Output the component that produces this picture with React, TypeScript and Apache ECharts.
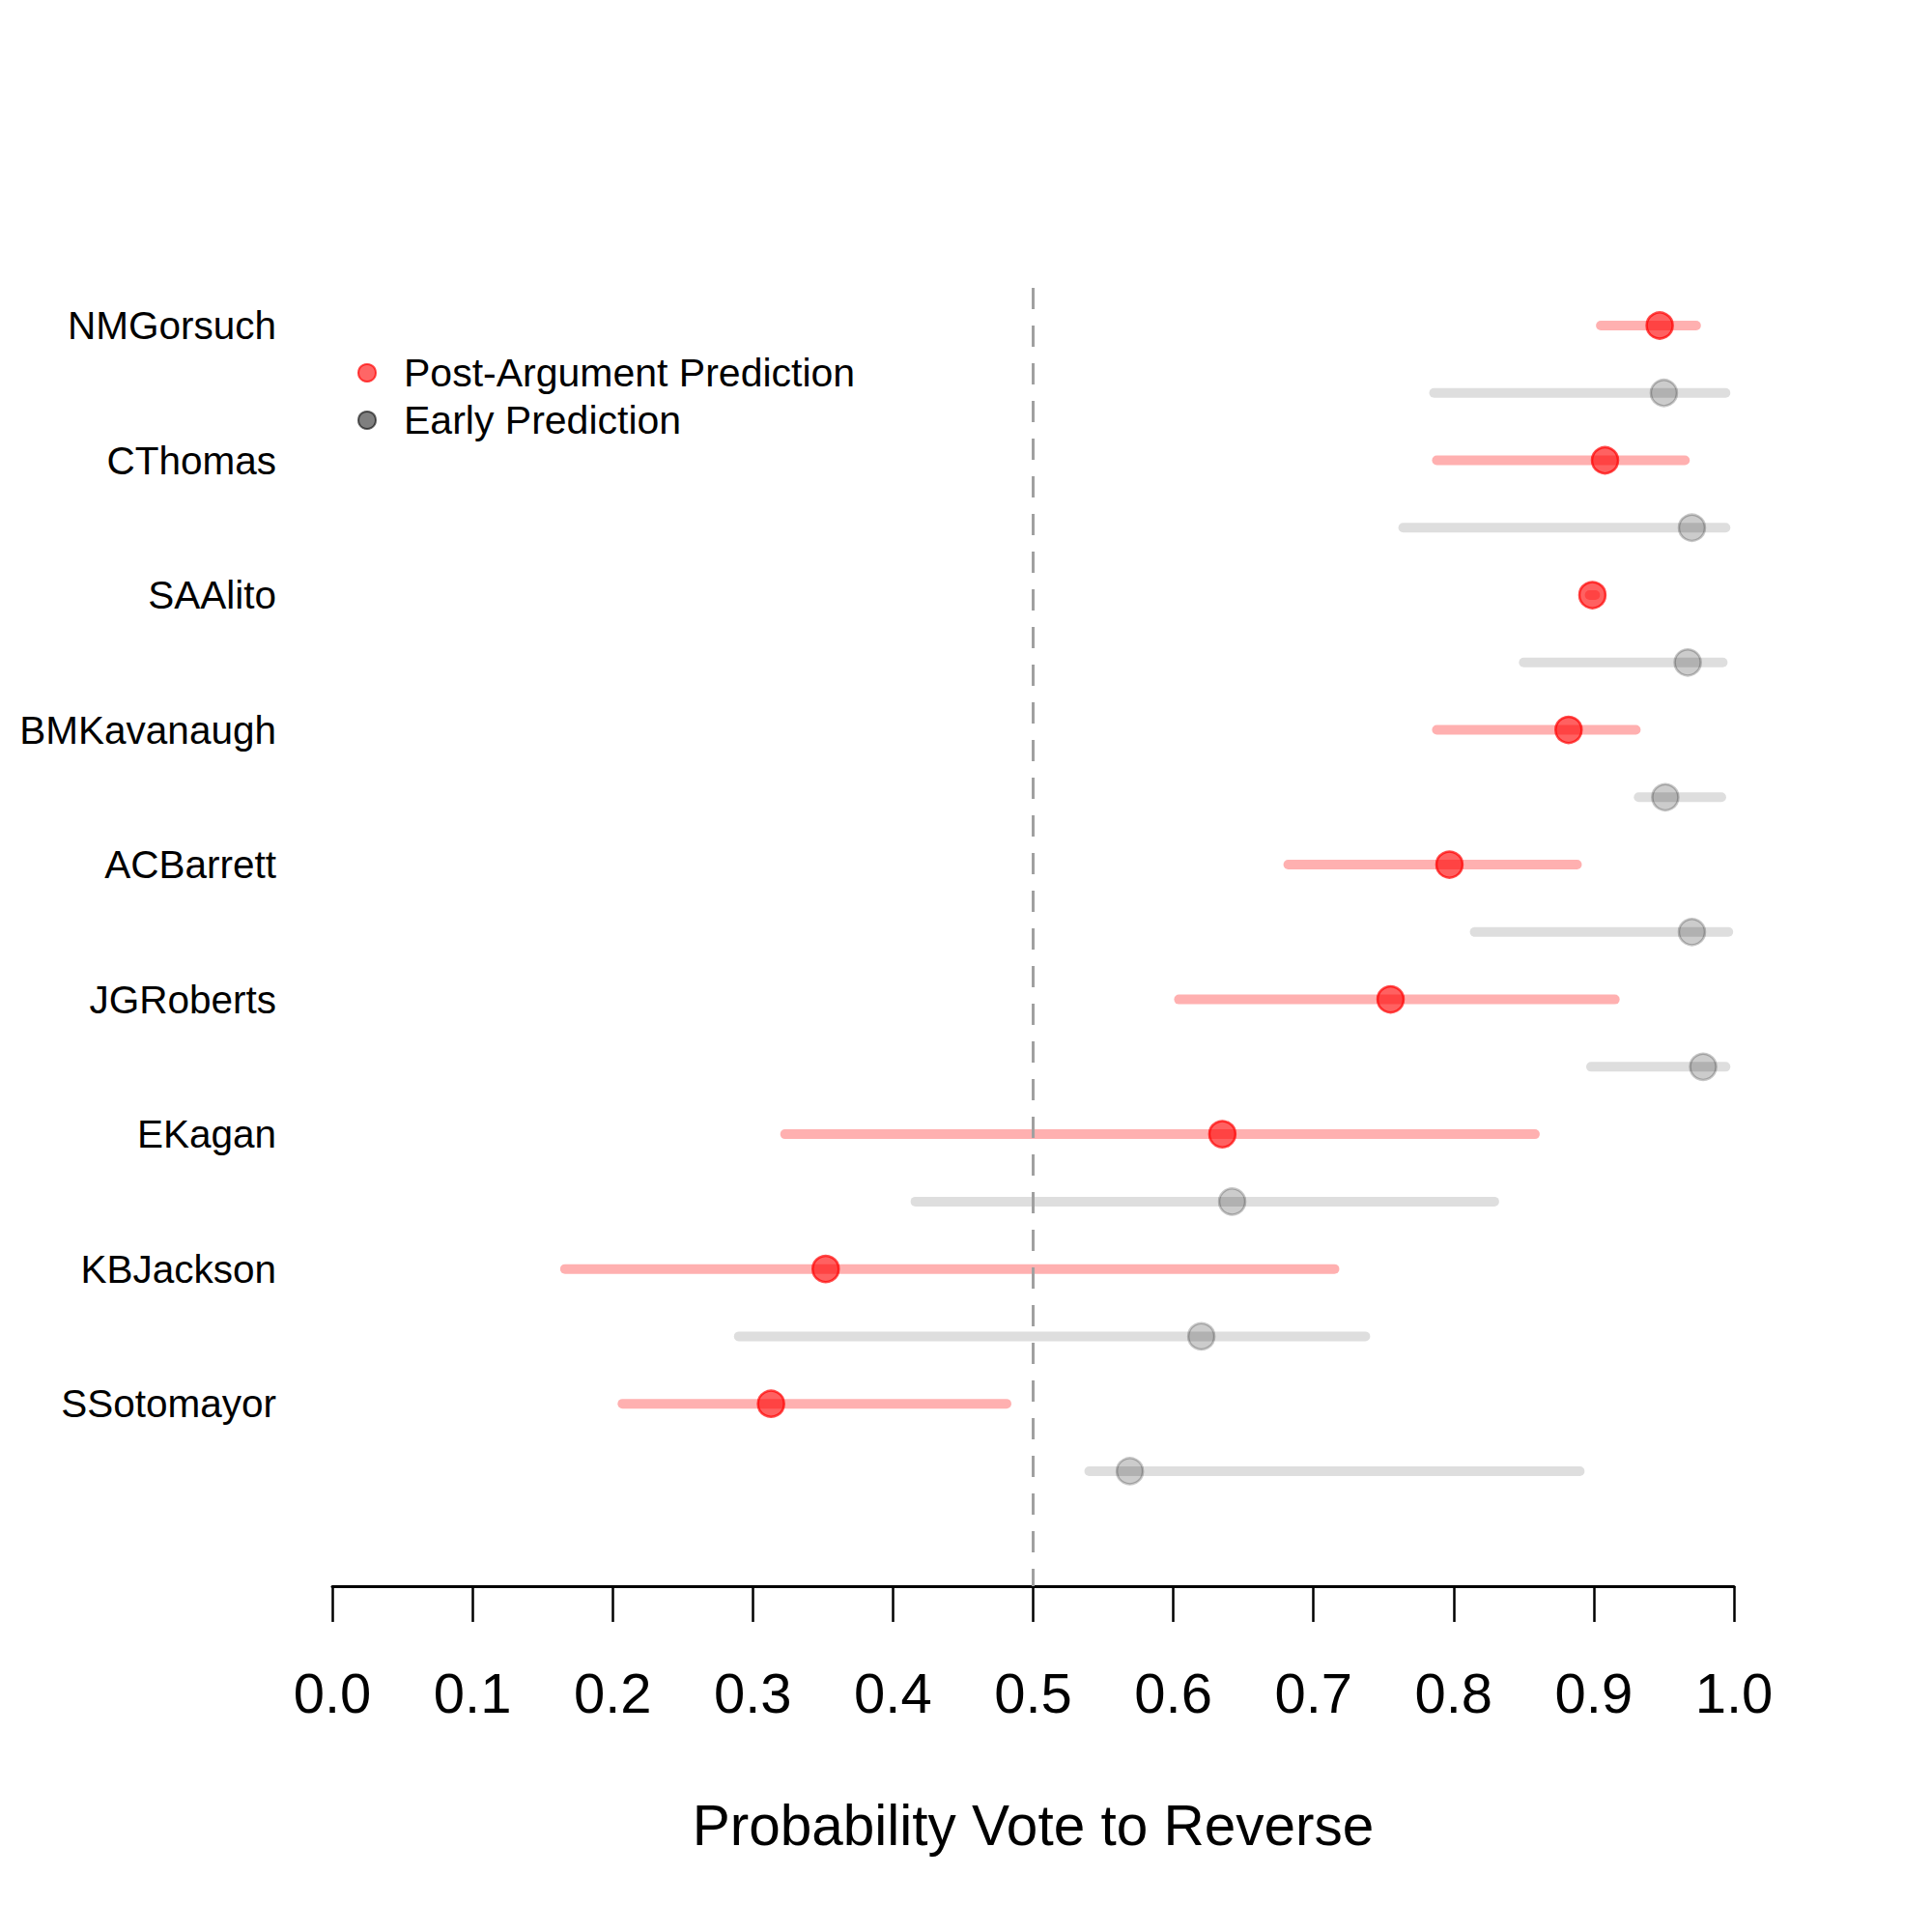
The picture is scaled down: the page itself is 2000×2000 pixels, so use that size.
import React, { useEffect, useRef } from "react";
import * as echarts from "echarts";

const justices = ["NMGorsuch", "CThomas", "SAAlito", "BMKavanaugh", "ACBarrett", "JGRoberts", "EKagan", "KBJackson", "SSotomayor"];
const postMean = [0.947, 0.908, 0.899, 0.882, 0.797, 0.755, 0.635, 0.352, 0.313];
const postLow = [0.905, 0.788, 0.897, 0.788, 0.682, 0.604, 0.323, 0.166, 0.207];
const postHigh = [0.973, 0.965, 0.901, 0.930, 0.888, 0.915, 0.858, 0.715, 0.481];
const earlyMean = [0.950, 0.970, 0.967, 0.951, 0.970, 0.978, 0.642, 0.620, 0.569];
const earlyLow = [0.786, 0.764, 0.850, 0.932, 0.815, 0.898, 0.416, 0.290, 0.540];
const earlyHigh = [0.994, 0.994, 0.992, 0.991, 0.996, 0.994, 0.829, 0.737, 0.890];
const seriesNames = ["Post-Argument Prediction", "Early Prediction"];
const xTicks = [0, 0.1, 0.2, 0.3, 0.4, 0.5, 0.6, 0.7, 0.8, 0.9, 1.0];

const FONT = "'Liberation Sans', Arial, Helvetica, sans-serif";

export default function App() {
  const ref = useRef<HTMLDivElement>(null);
  useEffect(() => {
    if (!ref.current) return;
    const chart = echarts.init(ref.current, null, { renderer: "svg" });

    const postRows = justices.map((_, i) => 2 * i + 1);
    const earlyRows = justices.map((_, i) => 2 * i + 2);

    const lineSeries = (lo: number[], hi: number[], rows: number[], color: string) => ({
      type: "custom",
      z: 1,
      silent: true,
      data: lo.map((l, i) => [l, hi[i], rows[i]]),
      encode: { x: [0, 1], y: 2 },
      renderItem: (params: any, api: any) => {
        const a = api.coord([api.value(0), api.value(2)]);
        const b = api.coord([api.value(1), api.value(2)]);
        return {
          type: "line",
          shape: { x1: a[0], y1: a[1], x2: b[0], y2: b[1] },
          style: { stroke: color, lineWidth: 10, lineCap: "round" },
        };
      },
    });

    const option: any = {
      animation: false,
      backgroundColor: "#ffffff",
      grid: { left: 344, top: 298, width: 1451, height: 1344, containLabel: false },
      xAxis: {
        type: "value",
        min: 0,
        max: 1,
        interval: 0.1,
        name: "Probability Vote to Reverse",
        nameLocation: "middle",
        nameGap: 218,
        nameTextStyle: { fontSize: 58.5, color: "#000", fontFamily: FONT },
        axisLine: { show: true, lineStyle: { color: "#000", width: 3 } },
        axisTick: { show: true, length: 37, lineStyle: { color: "#000", width: 2.5 } },
        axisLabel: {
          margin: 81,
          fontSize: 58,
          color: "#000",
          fontFamily: FONT,
          formatter: (v: number) => v.toFixed(1),
          customValues: xTicks,
        },
        splitLine: { show: false },
      },
      yAxis: {
        type: "value",
        inverse: true,
        min: 0.441,
        max: 19.707,
        axisLine: { show: false },
        axisTick: { show: false },
        splitLine: { show: false },
        axisLabel: {
          show: true,
          margin: 58,
          fontSize: 40.5,
          color: "#000",
          fontFamily: FONT,
          customValues: postRows,
          formatter: (v: number) => justices[Math.round((v - 1) / 2)] ?? "",
        },
      },
      series: [
        lineSeries(postLow, postHigh, postRows, "#ffb0b0"),
        lineSeries(earlyLow, earlyHigh, earlyRows, "#dedede"),
        {
          name: seriesNames[0],
          type: "scatter",
          z: 3,
          symbol: "circle",
          symbolSize: 27,
          data: postMean.map((m, i) => [m, postRows[i]]),
          itemStyle: { color: "rgba(255,0,0,0.62)", borderColor: "rgba(255,0,0,0.7)", borderWidth: 2.5, opacity: 1 },
          markLine: {
            silent: true,
            symbol: "none",
            label: { show: false },
            lineStyle: { color: "#a0a0a0", width: 3, type: [22, 17] },
            data: [{ xAxis: 0.5 }],
          },
        },
        {
          name: seriesNames[1],
          type: "scatter",
          z: 3,
          symbol: "circle",
          symbolSize: 27,
          data: earlyMean.map((m, i) => [m, earlyRows[i]]),
          itemStyle: { color: "rgba(0,0,0,0.2)", borderColor: "rgba(0,0,0,0.22)", borderWidth: 2.5, opacity: 1 },
        },
      ],
      graphic: [
        {
          type: "circle",
          shape: { cx: 380, cy: 386, r: 9 },
          style: { fill: "rgba(255,0,0,0.6)", stroke: "rgba(255,0,0,0.7)", lineWidth: 2 },
        },
        {
          type: "text",
          x: 418,
          y: 386,
          style: { text: seriesNames[0], fontSize: 41, fill: "#000", fontFamily: FONT, verticalAlign: "middle", align: "left" },
        },
        {
          type: "circle",
          shape: { cx: 380, cy: 435, r: 9 },
          style: { fill: "rgba(0,0,0,0.5)", stroke: "rgba(0,0,0,0.6)", lineWidth: 2 },
        },
        {
          type: "text",
          x: 418,
          y: 435,
          style: { text: seriesNames[1], fontSize: 41, fill: "#000", fontFamily: FONT, verticalAlign: "middle", align: "left" },
        },
      ],
    };
    chart.setOption(option);
    return () => chart.dispose();
  }, []);
  return (
    <div
      ref={ref}
      style={{ position: "absolute", left: 0, top: 0, width: 2000, height: 2000, background: "#fff" }}
    />
  );
}
